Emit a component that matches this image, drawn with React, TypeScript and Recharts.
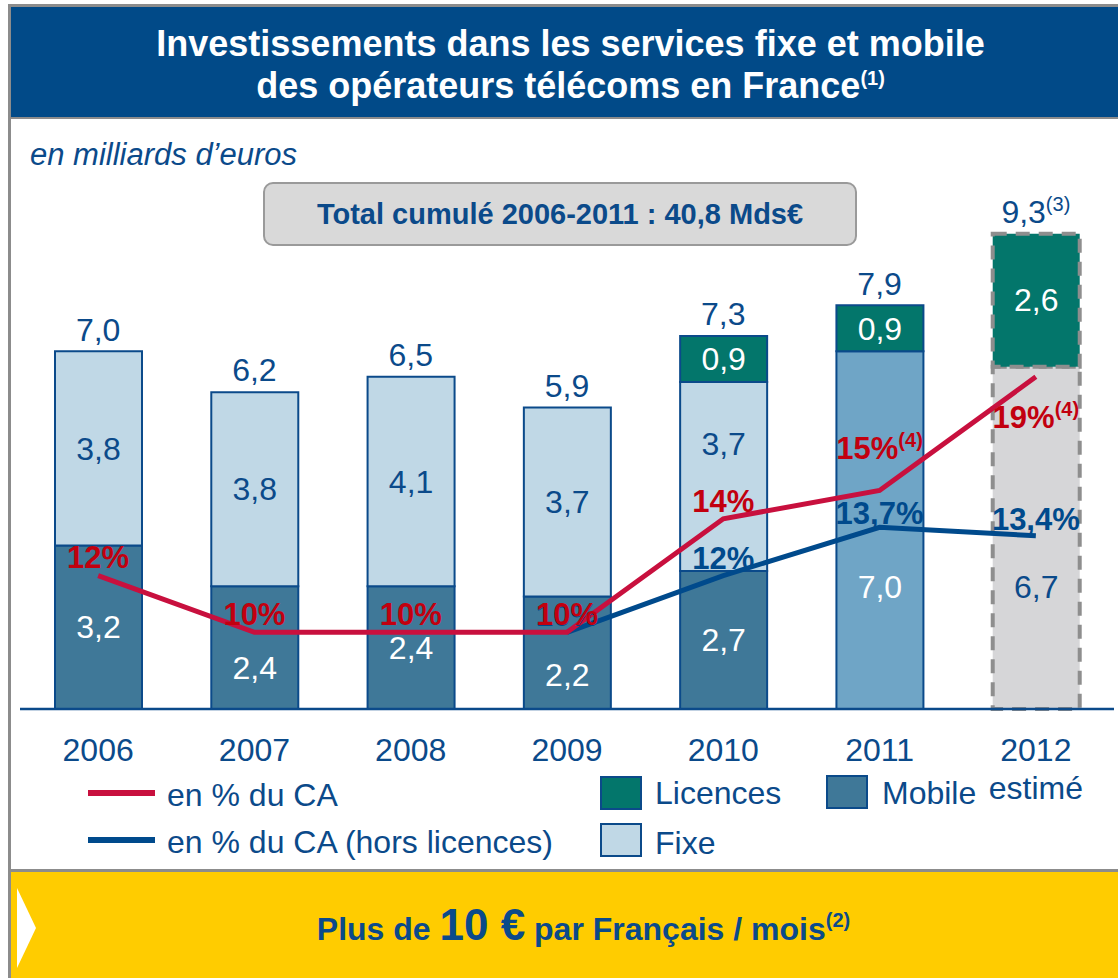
import React from "react";
import { ComposedChart, Bar, Line, XAxis, YAxis, Cell, LabelList, Legend } from "recharts";

const FONT = "'Liberation Sans', Arial, sans-serif";
const FS = 32;
const BLUE_TEXT = "#0b4a8a";
const RED_LINE = "#c8103e";
const RED_TEXT = "#c2000f";
const BLUE_LINE = "#004a8c";

const years = ["2006", "2007", "2008", "2009", "2010", "2011", "2012"];
const yearNotes = ["", "", "", "", "", "", "estimé"];
const mobile = [3.2, 2.4, 2.4, 2.2, 2.7, null, null];
const fixe = [3.8, 3.8, 4.1, 3.7, 3.7, null, null];
// 2011: fixe + mobile not split; 2012: estimate, not split either
const fixeMobile = [null, null, null, null, null, 7.0, null];
const fixeMobileEstime = [null, null, null, null, null, null, 6.7];
const licences = [null, null, null, null, 0.9, 0.9, 2.6];
const totals = [7.0, 6.2, 6.5, 5.9, 7.3, 7.9, 9.3];
const totalNotes = ["", "", "", "", "", "", "(3)"];
const pctCA = [12, 10, 10, 10, 14, 15, 19];
const pctCANotes = ["", "", "", "", "", "(4)", "(4)"];
const pctHorsLicences = [null, null, null, 10, 12, 13.7, 13.4];

const data = years.map((year, i) => ({
  year,
  mobile: mobile[i],
  fixe: fixe[i],
  fixeMobile: fixeMobile[i],
  fixeMobileEstime: fixeMobileEstime[i],
  licences: licences[i],
  total: totals[i],
  pctCA: pctCA[i],
  pctHL: pctHorsLicences[i],
}));

const fmt = (v: number) => v.toFixed(1).replace(".", ",");
const fmtPct = (v: number) => `${String(v).replace(".", ",")}%`;

// small vertical nudges so labels don't sit on the lines
const labelShift: Record<string, Record<number, number>> = {
  mobile: { 1: 20, 3: 22 },
  fixe: { 4: -33 },
  pctCA: { 5: -24 },
  pctHL: { 5: 3 },
};

const segmentLabel = (key: string, color: string, fromBottom?: number) => (props: any) => {
  const { value, index } = props;
  const vb = props.viewBox || props;
  if (value == null || !vb || !vb.height) return null;
  let cy = fromBottom ? vb.y + vb.height - fromBottom : vb.y + vb.height / 2;
  cy += labelShift[key]?.[index] ?? 0;
  return (
    <text x={vb.x + vb.width / 2} y={cy} dy="0.35em" textAnchor="middle" fill={color} fontSize={FS} fontFamily={FONT}>
      {fmt(value)}
    </text>
  );
};

const TotalLabel = (props: any) => {
  const { value, index } = props;
  const vb = props.viewBox || props;
  if (value == null) return null;
  return (
    <text x={vb.x} y={vb.y - 22} dy="0.35em" textAnchor="middle" fill={BLUE_TEXT} fontSize={FS} fontFamily={FONT}>
      {fmt(value)}
      {totalNotes[index] && (
        <tspan fontSize={20} dy={-12}>
          {totalNotes[index]}
        </tspan>
      )}
    </text>
  );
};

const RedLabel = (props: any) => {
  const { value, index } = props;
  const vb = props.viewBox || props;
  if (value == null) return null;
  const below = index === years.length - 1;
  const y = (below ? vb.y + 40 : vb.y - 18) + (labelShift.pctCA[index] ?? 0);
  return (
    <text x={vb.x} y={y} dy="0.35em" textAnchor="middle" fill={RED_TEXT} fontSize={31} fontWeight={700} fontFamily={FONT}>
      {fmtPct(value)}
      {pctCANotes[index] && (
        <tspan fontSize={20} dy={-12}>
          {pctCANotes[index]}
        </tspan>
      )}
    </text>
  );
};

const BlueLabel = (props: any) => {
  const { value, index } = props;
  const vb = props.viewBox || props;
  if (value == null) return null;
  const y = vb.y - 17 + (labelShift.pctHL[index] ?? 0);
  return (
    <text x={vb.x} y={y} dy="0.35em" textAnchor="middle" fill={BLUE_LINE} fontSize={31} fontWeight={700} fontFamily={FONT}>
      {fmtPct(value)}
    </text>
  );
};

const YearTick = (props: any) => {
  const { x, y, payload } = props;
  const note = yearNotes[payload.index];
  return (
    <g>
      <text x={x} y={y + 41} dy="0.35em" textAnchor="middle" fill={BLUE_TEXT} fontSize={FS} fontFamily={FONT}>
        {payload.value}
      </text>
      {note && (
        <text x={x} y={y + 79} dy="0.35em" textAnchor="middle" fill={BLUE_TEXT} fontSize={FS} fontFamily={FONT}>
          {note}
        </text>
      )}
    </g>
  );
};

const legendText: React.CSSProperties = {
  position: "absolute",
  fontSize: FS,
  lineHeight: "36px",
  color: BLUE_TEXT,
  fontFamily: FONT,
  whiteSpace: "nowrap",
};
const swatch = (fill: string): React.CSSProperties => ({
  position: "absolute",
  width: 38,
  height: 30,
  background: fill,
  border: `2px solid ${BLUE_TEXT}`,
});

const LegendContent = () => (
  <div style={{ position: "relative", width: 1118, height: 100 }}>
    <div style={{ position: "absolute", left: 88, top: 20, width: 67, height: 6, background: RED_LINE }} />
    <div style={{ ...legendText, left: 167, top: 7 }}>en % du CA</div>
    <div style={{ position: "absolute", left: 88, top: 67, width: 67, height: 6, background: BLUE_LINE }} />
    <div style={{ ...legendText, left: 167, top: 54 }}>en % du CA (hors licences)</div>
    <div style={{ ...swatch("#03766b"), left: 600, top: 6 }} />
    <div style={{ ...legendText, left: 655, top: 5 }}>Licences</div>
    <div style={{ ...swatch("#3f7898"), left: 826, top: 5 }} />
    <div style={{ ...legendText, left: 882, top: 5 }}>Mobile</div>
    <div style={{ ...swatch("#c0d8e6"), left: 600, top: 53 }} />
    <div style={{ ...legendText, left: 655, top: 55 }}>Fixe</div>
  </div>
);

const DASH = { stroke: "#8e8e8e", strokeWidth: 4, strokeDasharray: "14 9" };

export default function App() {
  return (
    <div style={{ position: "relative", width: 1118, height: 978, background: "#fff", fontFamily: FONT, overflow: "hidden" }}>
      <style>{"body{margin:0}"}</style>
      <div style={{ position: "absolute", left: 8, top: 4, width: 1110, height: 3, background: "#8c8c8c" }} />
      <div style={{ position: "absolute", left: 8, top: 4, width: 3, height: 974, background: "#8c8c8c" }} />

      <ComposedChart
        width={1118}
        height={754}
        data={data}
        margin={{ top: 80, right: 4, bottom: 83, left: 20 }}
        style={{ position: "absolute", left: 0, top: 118 }}
      >
        <XAxis
          dataKey="year"
          interval={0}
          height={80}
          tickLine={false}
          tickSize={0}
          tickMargin={0}
          axisLine={{ stroke: BLUE_TEXT, strokeWidth: 2.5 }}
          tick={<YearTick />}
        />
        <YAxis yAxisId="left" domain={[0, 10]} hide />
        <YAxis yAxisId="pct" orientation="right" domain={[7.3, 25.3]} hide />
        <Legend verticalAlign="middle" align="center" layout="horizontal" wrapperStyle={{ left: 0, top: 652, width: 1118, height: 100 }} content={<LegendContent />} />

        <Bar yAxisId="left" dataKey="mobile" stackId="s" barSize={87} fill="#3f7898" stroke={BLUE_TEXT} strokeWidth={2} isAnimationActive={false}>
          <LabelList dataKey="mobile" content={segmentLabel("mobile", "#ffffff")} />
        </Bar>
        <Bar yAxisId="left" dataKey="fixe" stackId="s" barSize={87} fill="#c0d8e6" stroke={BLUE_TEXT} strokeWidth={2} isAnimationActive={false}>
          <LabelList dataKey="fixe" content={segmentLabel("fixe", BLUE_TEXT)} />
        </Bar>
        <Bar yAxisId="left" dataKey="fixeMobile" stackId="s" barSize={87} fill="#6fa5c6" stroke={BLUE_TEXT} strokeWidth={2} isAnimationActive={false}>
          <LabelList dataKey="fixeMobile" content={segmentLabel("fixeMobile", "#ffffff", 122)} />
        </Bar>
        <Bar yAxisId="left" dataKey="fixeMobileEstime" stackId="s" barSize={87} fill="#d6d6d8" {...DASH} isAnimationActive={false}>
          <LabelList dataKey="fixeMobileEstime" content={segmentLabel("fixeMobileEstime", BLUE_TEXT, 122)} />
        </Bar>
        <Bar yAxisId="left" dataKey="licences" stackId="s" barSize={87} isAnimationActive={false}>
          {data.map((d, i) =>
            d.year === "2012" ? (
              <Cell key={i} fill="#03766b" {...DASH} />
            ) : (
              <Cell key={i} fill="#03766b" stroke={BLUE_TEXT} strokeWidth={2} />
            )
          )}
          <LabelList dataKey="licences" content={segmentLabel("licences", "#ffffff")} />
        </Bar>

        <Line yAxisId="left" dataKey="total" stroke="none" dot={false} activeDot={false} legendType="none" isAnimationActive={false}>
          <LabelList dataKey="total" content={TotalLabel} />
        </Line>
        <Line yAxisId="pct" dataKey="pctHL" stroke={BLUE_LINE} strokeWidth={5} dot={false} activeDot={false} isAnimationActive={false}>
          <LabelList dataKey="pctHL" content={BlueLabel} />
        </Line>
        <Line yAxisId="pct" dataKey="pctCA" stroke={RED_LINE} strokeWidth={5} dot={false} activeDot={false} isAnimationActive={false}>
          <LabelList dataKey="pctCA" content={RedLabel} />
        </Line>
      </ComposedChart>

      <div
        style={{
          position: "absolute",
          left: 11,
          top: 7,
          width: 1095,
          height: 94,
          paddingTop: 16,
          paddingLeft: 12,
          background: "#014a88",
          color: "#fff",
          fontWeight: 700,
          fontSize: 36,
          lineHeight: "42px",
          textAlign: "center",
        }}
      >
        Investissements dans les services fixe et mobile
        <br />
        des opérateurs télécoms en France
        <span style={{ fontSize: 20, position: "relative", top: -13 }}>(1)</span>
      </div>
      <div style={{ position: "absolute", left: 11, top: 117, width: 1107, height: 2, background: "#8c8c8c" }} />

      <div style={{ position: "absolute", left: 30, top: 137, fontSize: 31, lineHeight: "36px", fontStyle: "italic", color: BLUE_TEXT }}>
        en milliards d’euros
      </div>

      <div
        style={{
          position: "absolute",
          left: 263,
          top: 182,
          width: 590,
          height: 60,
          borderRadius: 10,
          background: "#d9d9d9",
          border: "2px solid #9a9a9a",
          textAlign: "center",
          lineHeight: "60px",
          fontSize: 29,
          fontWeight: 700,
          color: BLUE_TEXT,
        }}
      >
        Total cumulé 2006-2011 : 40,8 Mds€
      </div>

      <div style={{ position: "absolute", left: 11, top: 869, width: 1107, height: 3, background: "#8c8c8c" }} />
      <div style={{ position: "absolute", left: 11, top: 872, width: 1107, height: 106, background: "#ffcc00" }}>
        <svg width={40} height={106} style={{ position: "absolute", left: 0, top: 0 }}>
          <polygon points="6,16 25,56 6,96" fill="#ffffff" />
        </svg>
        <div style={{ position: "absolute", left: 38, top: 0, width: 1069, textAlign: "center", lineHeight: "106px", color: BLUE_TEXT, fontWeight: 700, fontSize: 32 }}>
          Plus de <span style={{ fontSize: 44 }}>10 €</span> par Français / mois
          <span style={{ fontSize: 20, position: "relative", top: -13 }}>(2)</span>
        </div>
      </div>
    </div>
  );
}
